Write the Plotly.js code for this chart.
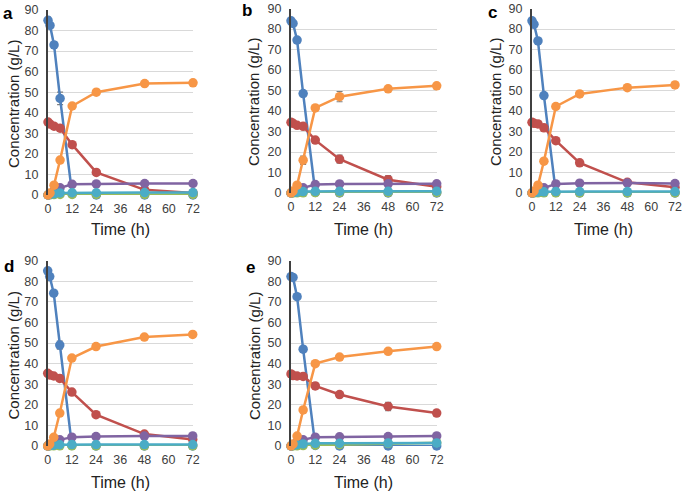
<!DOCTYPE html>
<html><head><meta charset="utf-8">
<script src="https://cdn.plot.ly/plotly-3.0.1.min.js"></script>
<style>html,body{margin:0;padding:0;background:#fff}</style>
</head><body><div id="chart" style="width:685px;height:492px"></div>
<script>
const time = [0, 1, 3, 6, 12, 24, 48, 72];
const panelLabels = ["a", "b", "c", "d", "e"];
const xTicks = [0, 12, 24, 36, 48, 60, 72];
const yTicks = [0, 10, 20, 30, 40, 50, 60, 70, 80, 90];

// Panel a
const blueA   = [85, 82.5, 73, 47, 0.5, 0, 0, 0];
const redA    = [35.5, 34.5, 33.5, 32.5, 24.5, 11, 2.5, 1];
const orangeA = [0, 1, 4.8, 17, 43.3, 50, 54.2, 54.6];
const purpleA = [0, 0.5, 2, 3.5, 5.2, 5.4, 5.6, 5.6];
const cyanA   = [0, 0.3, 0.6, 1, 1.1, 1.1, 1.2, 1.2];
const greenA  = [0, 0.1, 0.2, 0.3, 0.3, 0.3, 0.3, 0.3];
const blueErrA   = [1.5, 1, 1.5, 3, 0, 0, 0, 0];
const redErrA    = [0.5, 0.5, 0.5, 0.5, 0.5, 0.5, 0.3, 0.3];
const orangeErrA = [0, 0, 0.5, 0.5, 0.5, 0.5, 0.5, 0.5];
// Panel b
const blueB   = [84, 82.7, 74.6, 48.5, 0.3, 0, 0, 0];
const redB    = [34.5, 34, 33, 32.5, 25.8, 16.5, 6.5, 3];
const orangeB = [0, 1, 3.8, 16, 41.5, 47, 50.8, 52.3];
const purpleB = [0, 0.5, 1.5, 2.5, 4.1, 4.4, 4.5, 4.5];
const cyanB   = [0, 0.2, 0.4, 0.7, 0.8, 0.8, 0.8, 0.9];
const greenB  = [0, 0, 0.1, 0.1, 0.2, 0.2, 0.2, 0.2];
const blueErrB   = [1, 0.5, 1, 1, 0, 0, 0, 0];
const redErrB    = [0.5, 0.5, 0.5, 0.5, 1, 2, 2, 0.5];
const orangeErrB = [0, 0, 0.5, 2, 0.8, 2.5, 0.8, 0.5];
// Panel c
const blueC   = [84, 82.3, 74.2, 47.5, 0.3, 0, 0, 0];
const redC    = [34.5, 34, 33.7, 31.8, 25.5, 14.7, 5.2, 2.8];
const orangeC = [0, 1, 3.8, 15.5, 42.2, 48.3, 51.4, 52.7];
const purpleC = [0, 0.5, 1.5, 2.5, 4.4, 4.8, 4.9, 4.6];
const cyanC   = [0, 0.2, 0.4, 0.6, 0.7, 0.7, 0.7, 0.7];
const greenC  = [0, 0, 0.1, 0.1, 0.1, 0.1, 0.1, 0.1];
const blueErrC   = [1, 0.5, 0.5, 0.5, 0, 0, 0, 0];
const redErrC    = [0.5, 0.5, 0.5, 0.5, 0.5, 0.5, 0.5, 0.3];
const orangeErrC = [0, 0, 0.5, 0.5, 0.5, 0.5, 0.5, 0.5];
// Panel d
const blueD   = [85.1, 82.3, 74.2, 49, 0.3, 0, 0, 0];
const redD    = [35.3, 34.5, 34, 32.8, 26.2, 15.2, 5.8, 3.2];
const orangeD = [0, 1, 4.2, 16, 42.7, 48.3, 52.9, 54.2];
const purpleD = [0, 0.5, 1.5, 3, 4.3, 4.6, 4.8, 4.9];
const cyanD   = [0, 0.2, 0.4, 0.6, 0.7, 0.7, 0.7, 0.7];
const greenD  = [0, 0, 0.1, 0.1, 0.1, 0.1, 0.1, 0.1];
const blueErrD   = [1, 0.5, 0.5, 2, 0, 0, 0, 0];
const redErrD    = [0.5, 0.5, 0.5, 0.5, 0.5, 0.5, 0.8, 0.3];
const orangeErrD = [0, 0, 0.5, 0.5, 0.5, 0.5, 0.5, 1];
// Panel e
const blueE   = [82.3, 81.9, 72.5, 47, 0.3, 0, 0, 0];
const redE    = [35, 34.2, 34, 33.8, 29.2, 25, 19.2, 16];
const orangeE = [0, 1, 4.8, 17.5, 40, 43.2, 46, 48.3];
const purpleE = [0, 0.5, 2, 3, 4.3, 4.5, 4.6, 4.9];
const cyanE   = [0, 0.3, 0.6, 1, 1.3, 1.3, 1.4, 1.5];
const greenE  = [0, 0, 0.1, 0.2, 0.4, 0.6, 1.2, 1.6];
const blueErrE   = [0.5, 0.5, 0.5, 0.5, 0, 0, 0, 0];
const redErrE    = [0.5, 0.5, 0.5, 0.5, 0.5, 0.8, 2, 1.5];
const orangeErrE = [0, 0, 0.5, 0.5, 0.5, 0.5, 0.5, 0.5];

const panels = [
  {blue: blueA, red: redA, orange: orangeA, purple: purpleA, cyan: cyanA, green: greenA, be: blueErrA, re: redErrA, oe: orangeErrA},
  {blue: blueB, red: redB, orange: orangeB, purple: purpleB, cyan: cyanB, green: greenB, be: blueErrB, re: redErrB, oe: orangeErrB},
  {blue: blueC, red: redC, orange: orangeC, purple: purpleC, cyan: cyanC, green: greenC, be: blueErrC, re: redErrC, oe: orangeErrC},
  {blue: blueD, red: redD, orange: orangeD, purple: purpleD, cyan: cyanD, green: greenD, be: blueErrD, re: redErrD, oe: orangeErrD},
  {blue: blueE, red: redE, orange: orangeE, purple: purpleE, cyan: cyanE, green: greenE, be: blueErrE, re: redErrE, oe: orangeErrE}
];

// pixel geometry of each plot area: x0, x72, y0, y90
const geo = [
  [48, 193, 195, 10],
  [291, 436.7, 193, 8.5],
  [532, 675, 193, 8.5],
  [47.7, 192.7, 446, 260.7],
  [291, 436.7, 446, 260.7]
];
const letterPos = [[8, 14], [247, 11], [492, 13], [9, 266], [250, 267]];
const yTitlePos = [[13, 104], [254, 102], [496, 102], [12.5, 356], [254, 356]];
const xTitleY = [229, 229, 229, 482, 482];

const W = 685, H = 492;
const colors = {blue: "#4F81BD", red: "#C0504D", green: "#9BBB59", purple: "#8064A2", cyan: "#4BACC6", orange: "#F79646"};
const order = ["blue", "red", "green", "purple", "cyan", "orange"];
const errKey = {blue: "be", red: "re", orange: "oe"};
const font = "Liberation Sans, Arial, sans-serif";

const traces = [];
const layout = {
  width: W, height: H, margin: {l: 0, r: 0, t: 0, b: 0},
  paper_bgcolor: "#fff", plot_bgcolor: "rgba(0,0,0,0)", showlegend: false,
  font: {family: font, color: "#404040", size: 12},
  annotations: []
};

panels.forEach((p, i) => {
  const n = i === 0 ? "" : String(i + 1);
  const g = geo[i];
  layout["xaxis" + n] = {
    domain: [g[0] / W, g[1] / W], range: [0, 72], anchor: "y" + n,
    tickvals: xTicks, showgrid: false, zeroline: false, showline: false,
    ticks: "", ticklabelstandoff: 4,
    tickfont: {family: font, size: 12.5, color: "#404040"}, fixedrange: true
  };
  layout["yaxis" + n] = {
    domain: [(H - g[2]) / H, (H - g[3]) / H], range: [0, 90], anchor: "x" + n,
    tickvals: yTicks, showgrid: true, gridcolor: "#D9D9D9", gridwidth: 1,
    zeroline: false, showline: true, linecolor: "#404040", linewidth: 2,
    ticks: "", ticklabelstandoff: 5,
    tickfont: {family: font, size: 12.5, color: "#404040"}, fixedrange: true
  };
  order.forEach(k => {
    const t = {
      type: "scatter", mode: "lines+markers", x: time, y: p[k],
      xaxis: "x" + n, yaxis: "y" + n, cliponaxis: false,
      line: {color: colors[k], width: 2.5},
      marker: {color: colors[k], size: 9.5}
    };
    if (errKey[k]) {
      t.error_y = {type: "data", array: p[errKey[k]], visible: true, color: "#7F7F7F", thickness: 1.2, width: 3};
    }
    traces.push(t);
  });
  layout.annotations.push({
    text: "<b>" + panelLabels[i] + "</b>", xref: "paper", yref: "paper",
    x: letterPos[i][0] / W, y: (H - letterPos[i][1]) / H, xanchor: "center", yanchor: "middle",
    showarrow: false, font: {family: font, size: 17, color: "#000"}
  });
  layout.annotations.push({
    text: "Concentration (g/L)", xref: "paper", yref: "paper", textangle: -90,
    x: yTitlePos[i][0] / W, y: (H - yTitlePos[i][1]) / H, xanchor: "center", yanchor: "middle",
    showarrow: false, font: {family: font, size: 15, color: "#222"}
  });
  layout.annotations.push({
    text: "Time (h)", xref: "paper", yref: "paper",
    x: ((g[0] + g[1]) / 2) / W, y: (H - xTitleY[i]) / H, xanchor: "center", yanchor: "middle",
    showarrow: false, font: {family: font, size: 16, color: "#222"}
  });
});

Plotly.newPlot("chart", traces, layout, {staticPlot: true});
</script></body></html>
